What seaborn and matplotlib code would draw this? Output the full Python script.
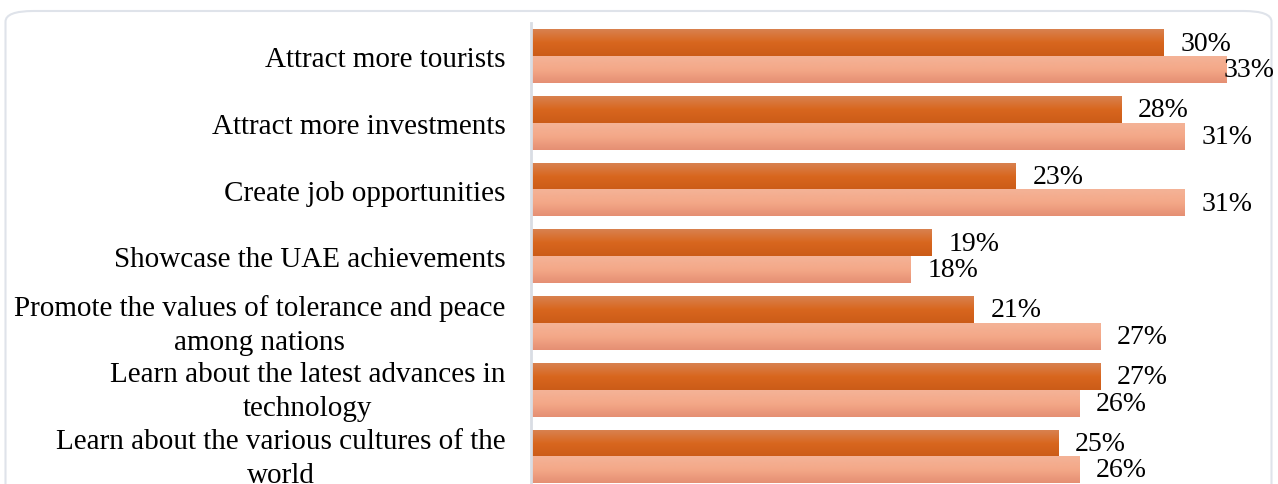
import numpy as np
import pandas as pd
import matplotlib
matplotlib.use("Agg")
import matplotlib.pyplot as plt
from matplotlib.colors import LinearSegmentedColormap
from matplotlib.patches import FancyBboxPatch
import seaborn as sns

categories = [
    "Attract more tourists",
    "Attract more investments",
    "Create job opportunities",
    "Showcase the UAE achievements",
    "Promote the values of tolerance and peace\namong nations",
    "Learn about the latest advances in\ntechnology",
    "Learn about the various cultures of the\nworld",
]
series_names = ["Series A", "Series B"]
values_a = [30, 28, 23, 19, 21, 27, 25]
values_b = [33, 31, 31, 18, 27, 26, 26]

df = pd.DataFrame({
    "category": categories * 2,
    "series": [series_names[0]] * len(categories) + [series_names[1]] * len(categories),
    "value": values_a + values_b,
})

sns.set_theme(style="white")
plt.rcParams["font.family"] = ["Liberation Serif", "DejaVu Serif"]

W, H = 1278, 485
CAT_FS = 21
VAL_FS = 20
fig = plt.figure(figsize=(W / 100, H / 100), dpi=100)
fig.patch.set_facecolor("white")

# rounded chart frame
frame = FancyBboxPatch((5.5 / W, -40 / H), (1266 / W), (H + 40 - 12) / H,
                       boxstyle="round,pad=0,rounding_size=0.022",
                       transform=fig.transFigure, facecolor="none",
                       edgecolor="#dfe3ea", linewidth=1.5, zorder=-1)
fig.patches.append(frame)

ax = fig.add_axes([531 / W, -6 / H, (1269 - 531) / W, 467 / H])
ax.set_facecolor("none")

palette = {series_names[0]: "#d8661e", series_names[1]: "#f4a888"}
sns.barplot(data=df, y="category", x="value", hue="series", orient="h",
            palette=palette, ax=ax, legend=False, width=0.8, saturation=1)

ax.set_xlabel("")
ax.set_ylabel("")
ax.set_xticks([])
for s in ["top", "right", "bottom"]:
    ax.spines[s].set_visible(False)
ax.spines["left"].set_color("#d9dde4")
ax.spines["left"].set_linewidth(2)
ax.tick_params(axis="y", length=0, labelleft=False)

# category labels, right-aligned beside the axis, wrapped lines centred
for i, cat in enumerate(categories):
    lift = 4.3 if "\n" in cat else 0
    ax.annotate(cat, xy=(0, i), xycoords=("axes fraction", "data"),
                xytext=(-18.5, lift), textcoords="offset points",
                ha="right", va="center_baseline", multialignment="center",
                linespacing=1.40, fontsize=CAT_FS, color="#000000",
                annotation_clip=False)

# vertical gradient fills for the bars
grad_dark = LinearSegmentedColormap.from_list(
    "dark", [(0, "#d9814f"), (0.5, "#d8661e"), (1, "#cb5c18")])
grad_light = LinearSegmentedColormap.from_list(
    "light", [(0, "#f4b397"), (0.5, "#f4a888"), (1, "#e58f73")])
grad = np.linspace(0, 1, 64).reshape(-1, 1)

n = len(categories)
all_values = values_a + values_b
bars = list(ax.patches)
for i, p in enumerate(bars):
    cmap = grad_dark if i < n else grad_light
    x0, y0 = p.get_x(), p.get_y()
    w, h = p.get_width(), p.get_height()
    ax.imshow(grad, cmap=cmap, aspect="auto", interpolation="bicubic",
              extent=(x0, x0 + w, y0 + h, y0), origin="upper", zorder=2)
    p.set_visible(False)
ax.set_xlim(0, 35)
ax.set_ylim(n - 0.5, -0.5)
ax.set_aspect("auto")

# value labels, pulled in toward the bar end when they would run off the figure
fig.canvas.draw()
renderer = fig.canvas.get_renderer()
for i, p in enumerate(bars):
    val = all_values[i]
    x_end = p.get_x() + p.get_width()
    yc = p.get_y() + p.get_height() / 2
    t = ax.annotate(f"{val}%", xy=(x_end, yc), xytext=(12, 0),
                    textcoords="offset points", ha="left", va="center",
                    fontsize=VAL_FS, color="#000000", zorder=5,
                    annotation_clip=False)
    bb = t.get_window_extent(renderer)
    if bb.x1 > W - 3:
        t.set_position((12 - (bb.x1 - (W - 3)) * 72 / 100, 0))

fig.savefig("out.png", dpi=100, facecolor="white")
